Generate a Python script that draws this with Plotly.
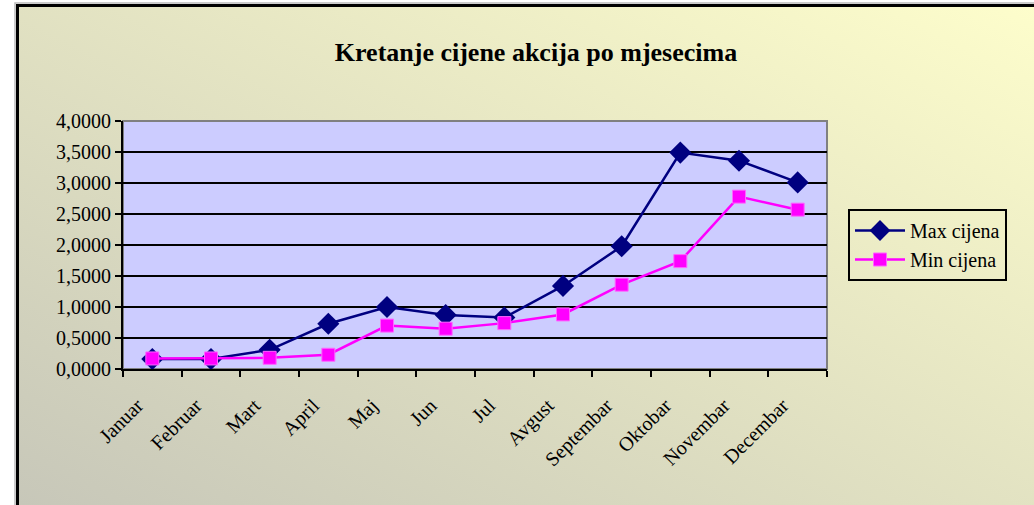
import base64
import plotly.graph_objects as go

months = ["Januar", "Februar", "Mart", "April", "Maj", "Jun", "Jul",
          "Avgust", "Septembar", "Oktobar", "Novembar", "Decembar"]
max_cijena = [0.16, 0.16, 0.31, 0.73, 1.00, 0.87, 0.83, 1.34, 1.98, 3.49, 3.36, 3.01]
min_cijena = [0.17, 0.17, 0.18, 0.23, 0.70, 0.65, 0.74, 0.88, 1.36, 1.74, 2.78, 2.57]
y_ticks = [0, 0.5, 1.0, 1.5, 2.0, 2.5, 3.0, 3.5, 4.0]
y_tick_labels = ["0,0000", "0,5000", "1,0000", "1,5000", "2,0000",
                 "2,5000", "3,0000", "3,5000", "4,0000"]

svg = ('<svg xmlns="http://www.w3.org/2000/svg" width="100" height="100" preserveAspectRatio="none">'
       '<defs><linearGradient id="g" x1="0" y1="1" x2="1" y2="0">'
       '<stop offset="0" stop-color="#C4C4B8"/>'
       '<stop offset="1" stop-color="#FFFFCC"/>'
       '</linearGradient></defs>'
       '<rect width="100" height="100" fill="url(#g)"/></svg>')
src = "data:image/svg+xml;base64," + base64.b64encode(svg.encode()).decode()

fig = go.Figure()
fig.add_trace(go.Scatter(
    x=months, y=max_cijena, name="Max cijena", mode="lines+markers",
    line=dict(color="#000080", width=2.5),
    marker=dict(symbol="diamond", size=17, color="#000080"),
))
fig.add_trace(go.Scatter(
    x=months, y=min_cijena, name="Min cijena", mode="lines+markers",
    line=dict(color="#FF00FF", width=2.5),
    marker=dict(symbol="square", size=13, color="#FF00FF",
                line=dict(color="#FF66FF", width=1)),
))

W, H = 1034, 505
# target plot area in page pixels
PL, PR, PT, PB = 123, 827, 121, 369
L, T = PL, PT
R, B = W - PR, H - PB
pw, ph = PR - PL, PB - PT
def px(x):
    return (x - PL) / pw
def py(y):
    return (PB - y) / ph

serif = "Liberation Serif, Times New Roman, serif"
fig.update_layout(
    width=W, height=H,
    margin=dict(l=L, r=R, t=T, b=B),
    paper_bgcolor="white",
    plot_bgcolor="rgba(0,0,0,0)",
    font=dict(family=serif, size=20, color="black"),
    title=dict(text="<b>Kretanje cijene akcija po mjesecima</b>",
               x=px(536), xref="paper", xanchor="center",
               y=1 - 52 / H, yanchor="middle",
               font=dict(size=26, family=serif)),
    showlegend=True,
    legend=dict(x=px(848), y=py(209), xanchor="left", yanchor="top",
                bgcolor="rgba(0,0,0,0)", bordercolor="black", borderwidth=2,
                font=dict(size=20), itemwidth=50, tracegroupgap=0),
    images=[dict(source=src, xref="paper", yref="paper",
                 x=px(17), y=py(5), sizex=px(1100) - px(17), sizey=py(5) - py(560),
                 xanchor="left", yanchor="top", sizing="stretch", layer="below")],
    shapes=[
        dict(type="rect", xref="paper", yref="paper", x0=0, x1=1, y0=0, y1=1,
             fillcolor="#CCCCFF", line=dict(color="#808080", width=2), layer="below"),
        dict(type="rect", xref="paper", yref="paper",
             x0=px(15), x1=px(1100), y0=py(560), y1=py(3),
             fillcolor="rgba(0,0,0,0)", line=dict(color="#BBBBBB", width=1.5), layer="above"),
        dict(type="rect", xref="paper", yref="paper",
             x0=px(17.5), x1=px(1100), y0=py(560), y1=py(5.5),
             fillcolor="rgba(0,0,0,0)", line=dict(color="black", width=3), layer="above"),
    ],
)
fig.update_xaxes(
    type="category", range=[-0.5, 11.5], tickangle=-45,
    showline=True, linecolor="black", linewidth=2,
    ticks="outside", tickson="boundaries", ticklen=6, tickwidth=2, tickcolor="black",
    ticklabelstandoff=15, ticklabelshift=-15,
    showgrid=False, zeroline=False,
)
fig.update_yaxes(
    range=[0, 4], tickvals=y_ticks, ticktext=y_tick_labels,
    showline=True, linecolor="black", linewidth=2,
    ticks="outside", ticklen=6, tickwidth=2, tickcolor="black",
    showgrid=True, gridcolor="black", gridwidth=1.5, zeroline=False,
)
fig.write_html("out.html", config={"displayModeBar": False},
               post_script="document.body.style.margin='0px';document.body.style.overflow='hidden';")
